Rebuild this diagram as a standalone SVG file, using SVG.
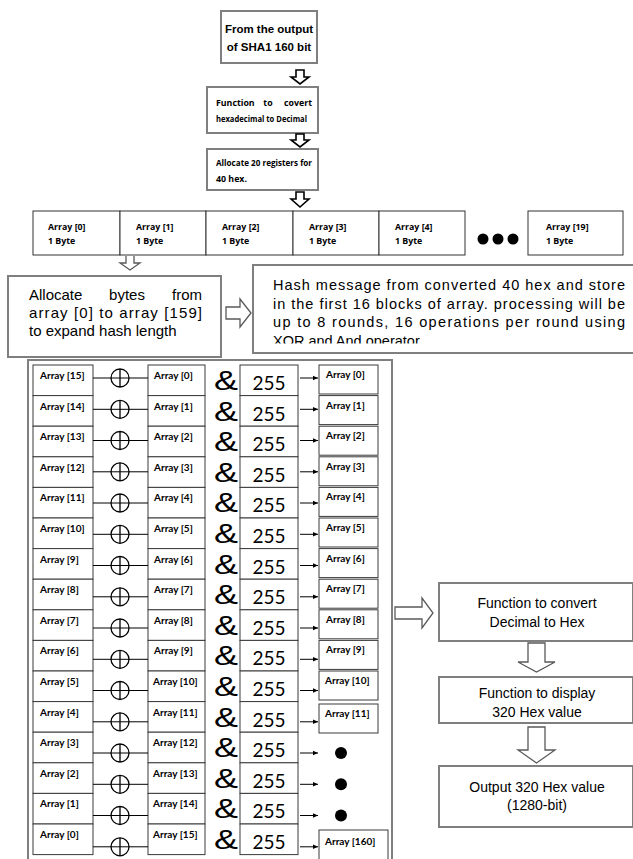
<svg xmlns="http://www.w3.org/2000/svg" width="633" height="859" viewBox="0 0 633 859">
<defs>
<style>
.gb{fill:#fff;stroke:#7f7f7f;stroke-width:2}
.tb{fill:#fff;stroke:#3a3a3a;stroke-width:1}
.ab{fill:#fff;stroke:#333;stroke-width:1}
.hb{font-family:"Liberation Sans",Arial,sans-serif;font-weight:bold;fill:#000}
.sb{font-family:"Open Sans","Liberation Sans",sans-serif;font-weight:bold;fill:#000;font-size:8.8px}
.ar{font-family:"Liberation Sans",Arial,sans-serif;fill:#000}
.lab{font-family:Lato,"Liberation Sans",sans-serif;font-weight:bold;font-size:10px;fill:#000}
.amp{font-family:"Liberation Sans",Arial,sans-serif;font-size:27px;fill:#000}
.num{font-family:Lato,"Liberation Sans",sans-serif;font-size:19px;text-anchor:middle;fill:#000}
.blk{fill:#fff;stroke:#000;stroke-width:1.6}
.hol{fill:#fff;stroke:#595959;stroke-width:1.3}
.cn{stroke:#000;stroke-width:1;fill:none}
.xo{stroke:#000;stroke-width:1.3;fill:none}
</style>
<marker id="ah" markerWidth="6" markerHeight="6" refX="5" refY="3" orient="auto" markerUnits="userSpaceOnUse"><path d="M0,0.8 L5,3 L0,5.2z" fill="#000"/></marker>
<clipPath id="hc"><rect x="254" y="266" width="378" height="77.5"/></clipPath>
</defs>
<rect width="633" height="859" fill="#fff"/>

<g id="sha1-output">
<rect class="gb" x="221" y="11" width="96" height="52"/>
<text class="hb" x="269" y="33" font-size="11.5" text-anchor="middle">From the output</text>
<text class="hb" x="269" y="51" font-size="11.5" text-anchor="middle">of SHA1 160 bit</text>
</g>

<g id="hex-to-dec">
<rect class="gb" x="207" y="87" width="111" height="46"/>
<text class="sb" x="216" y="106">Function</text>
<text class="sb" x="268" y="106" text-anchor="middle">to</text>
<text class="sb" x="312" y="106" text-anchor="end">covert</text>
<text class="sb" x="216" y="122" textLength="91" lengthAdjust="spacingAndGlyphs">hexadecimal to Decimal</text>
</g>

<g id="alloc-registers">
<rect class="gb" x="207" y="149" width="111" height="41"/>
<text class="sb" x="216" y="166" textLength="96" lengthAdjust="spacingAndGlyphs">Allocate 20 registers for</text>
<text class="sb" x="216" y="182">40 hex.</text>
</g>

<g id="array-row">
<rect class="ab" x="33" y="211" width="87" height="44"/>
<rect class="ab" x="120" y="211" width="86" height="44"/>
<rect class="ab" x="206" y="211" width="87" height="44"/>
<rect class="ab" x="293" y="211" width="86" height="44"/>
<rect class="ab" x="379" y="211" width="86" height="44"/>
<rect class="ab" x="528" y="211" width="95" height="44"/>
<g class="sb" font-size="8.5">
<text x="48" y="230">Array [0]</text><text x="48" y="244">1 Byte</text>
<text x="136" y="230">Array [1]</text><text x="136" y="244">1 Byte</text>
<text x="222" y="230">Array [2]</text><text x="222" y="244">1 Byte</text>
<text x="309" y="230">Array [3]</text><text x="309" y="244">1 Byte</text>
<text x="395" y="230">Array [4]</text><text x="395" y="244">1 Byte</text>
<text x="546" y="230">Array [19]</text><text x="546" y="244">1 Byte</text>
</g>
<circle cx="483" cy="239" r="5.5"/><circle cx="498" cy="239" r="5.5"/><circle cx="513" cy="239" r="5.5"/>
</g>

<g id="alloc-bytes">
<rect class="gb" x="8" y="276" width="213" height="81"/>
<g class="ar" font-size="15">
<text x="29" y="300">Allocate</text>
<text x="127" y="300" text-anchor="middle">bytes</text>
<text x="202" y="300" text-anchor="end">from</text>
<text x="29" y="318" textLength="173" lengthAdjust="spacing">array [0] to array [159]</text>
<text x="29" y="336">to expand hash length</text>
</g>
</g>

<g id="hash-message">
<rect class="gb" x="253" y="265" width="381" height="88"/>
<g class="ar" font-size="14.5" clip-path="url(#hc)">
<text x="273" y="290" textLength="352" lengthAdjust="spacing">Hash message from converted 40 hex and store</text>
<text x="273" y="308.5" textLength="352" lengthAdjust="spacing">in the first 16 blocks of array. processing will be</text>
<text x="273" y="327" textLength="352" lengthAdjust="spacing">up to 8 rounds, 16 operations per round using</text>
<text x="273" y="346">XOR and And operator</text>
</g>
</g>

<g id="xor-panel">
<rect class="gb" x="28" y="360" width="364" height="510"/>
</g>

<g id="row-0"><rect class="tb" x="33" y="365" width="60" height="30.6"/><text class="lab" x="40" y="379">Array [15]</text><rect class="tb" x="148" y="365" width="57" height="30.6"/><text class="lab" x="154" y="379">Array [0]</text><text class="amp" x="214" y="390" textLength="24" lengthAdjust="spacingAndGlyphs">&amp;</text><rect class="tb" x="240" y="365" width="58" height="30.6"/><text class="num" x="269" y="390">255</text><rect class="tb" x="319" y="365" width="59" height="29"/><text class="lab" x="326" y="378">Array [0]</text></g>
<g id="row-1"><rect class="tb" x="33" y="395.6" width="60" height="30.6"/><text class="lab" x="40" y="409.6">Array [14]</text><rect class="tb" x="148" y="395.6" width="57" height="30.6"/><text class="lab" x="154" y="409.6">Array [1]</text><text class="amp" x="214" y="420.6" textLength="24" lengthAdjust="spacingAndGlyphs">&amp;</text><rect class="tb" x="240" y="395.6" width="58" height="30.6"/><text class="num" x="269" y="420.6">255</text><rect class="tb" x="319" y="395.6" width="59" height="29"/><text class="lab" x="326" y="408.6">Array [1]</text></g>
<g id="row-2"><rect class="tb" x="33" y="426.2" width="60" height="30.6"/><text class="lab" x="40" y="440.2">Array [13]</text><rect class="tb" x="148" y="426.2" width="57" height="30.6"/><text class="lab" x="154" y="440.2">Array [2]</text><text class="amp" x="214" y="451.2" textLength="24" lengthAdjust="spacingAndGlyphs">&amp;</text><rect class="tb" x="240" y="426.2" width="58" height="30.6"/><text class="num" x="269" y="451.2">255</text><rect class="tb" x="319" y="426.2" width="59" height="29"/><text class="lab" x="326" y="439.2">Array [2]</text></g>
<g id="row-3"><rect class="tb" x="33" y="456.8" width="60" height="30.6"/><text class="lab" x="40" y="470.8">Array [12]</text><rect class="tb" x="148" y="456.8" width="57" height="30.6"/><text class="lab" x="154" y="470.8">Array [3]</text><text class="amp" x="214" y="481.8" textLength="24" lengthAdjust="spacingAndGlyphs">&amp;</text><rect class="tb" x="240" y="456.8" width="58" height="30.6"/><text class="num" x="269" y="481.8">255</text><rect class="tb" x="319" y="456.8" width="59" height="29"/><text class="lab" x="326" y="469.8">Array [3]</text></g>
<g id="row-4"><rect class="tb" x="33" y="487.4" width="60" height="30.6"/><text class="lab" x="40" y="501.4">Array [11]</text><rect class="tb" x="148" y="487.4" width="57" height="30.6"/><text class="lab" x="154" y="501.4">Array [4]</text><text class="amp" x="214" y="512.4" textLength="24" lengthAdjust="spacingAndGlyphs">&amp;</text><rect class="tb" x="240" y="487.4" width="58" height="30.6"/><text class="num" x="269" y="512.4">255</text><rect class="tb" x="319" y="487.4" width="59" height="29"/><text class="lab" x="326" y="500.4">Array [4]</text></g>
<g id="row-5"><rect class="tb" x="33" y="518" width="60" height="30.6"/><text class="lab" x="40" y="532">Array [10]</text><rect class="tb" x="148" y="518" width="57" height="30.6"/><text class="lab" x="154" y="532">Array [5]</text><text class="amp" x="214" y="543" textLength="24" lengthAdjust="spacingAndGlyphs">&amp;</text><rect class="tb" x="240" y="518" width="58" height="30.6"/><text class="num" x="269" y="543">255</text><rect class="tb" x="319" y="518" width="59" height="29"/><text class="lab" x="326" y="531">Array [5]</text></g>
<g id="row-6"><rect class="tb" x="33" y="548.6" width="60" height="30.6"/><text class="lab" x="40" y="562.6">Array [9]</text><rect class="tb" x="148" y="548.6" width="57" height="30.6"/><text class="lab" x="154" y="562.6">Array [6]</text><text class="amp" x="214" y="573.6" textLength="24" lengthAdjust="spacingAndGlyphs">&amp;</text><rect class="tb" x="240" y="548.6" width="58" height="30.6"/><text class="num" x="269" y="573.6">255</text><rect class="tb" x="319" y="548.6" width="59" height="29"/><text class="lab" x="326" y="561.6">Array [6]</text></g>
<g id="row-7"><rect class="tb" x="33" y="579.2" width="60" height="30.6"/><text class="lab" x="40" y="593.2">Array [8]</text><rect class="tb" x="148" y="579.2" width="57" height="30.6"/><text class="lab" x="154" y="593.2">Array [7]</text><text class="amp" x="214" y="604.2" textLength="24" lengthAdjust="spacingAndGlyphs">&amp;</text><rect class="tb" x="240" y="579.2" width="58" height="30.6"/><text class="num" x="269" y="604.2">255</text><rect class="tb" x="319" y="579.2" width="59" height="29"/><text class="lab" x="326" y="592.2">Array [7]</text></g>
<g id="row-8"><rect class="tb" x="33" y="609.8" width="60" height="30.6"/><text class="lab" x="40" y="623.8">Array [7]</text><rect class="tb" x="148" y="609.8" width="57" height="30.6"/><text class="lab" x="154" y="623.8">Array [8]</text><text class="amp" x="214" y="634.8" textLength="24" lengthAdjust="spacingAndGlyphs">&amp;</text><rect class="tb" x="240" y="609.8" width="58" height="30.6"/><text class="num" x="269" y="634.8">255</text><rect class="tb" x="319" y="609.8" width="59" height="29"/><text class="lab" x="326" y="622.8">Array [8]</text></g>
<g id="row-9"><rect class="tb" x="33" y="640.4" width="60" height="30.6"/><text class="lab" x="40" y="654.4">Array [6]</text><rect class="tb" x="148" y="640.4" width="57" height="30.6"/><text class="lab" x="154" y="654.4">Array [9]</text><text class="amp" x="214" y="665.4" textLength="24" lengthAdjust="spacingAndGlyphs">&amp;</text><rect class="tb" x="240" y="640.4" width="58" height="30.6"/><text class="num" x="269" y="665.4">255</text><rect class="tb" x="319" y="640.4" width="59" height="29"/><text class="lab" x="326" y="653.4">Array [9]</text></g>
<g id="row-10"><rect class="tb" x="33" y="671" width="60" height="30.6"/><text class="lab" x="40" y="685">Array [5]</text><rect class="tb" x="148" y="671" width="57" height="30.6"/><text class="lab" x="153" y="685" font-size="9.5">Array [10]</text><text class="amp" x="214" y="696" textLength="24" lengthAdjust="spacingAndGlyphs">&amp;</text><rect class="tb" x="240" y="671" width="58" height="30.6"/><text class="num" x="269" y="696">255</text><rect class="tb" x="319" y="671" width="59" height="29"/><text class="lab" x="325" y="684" font-size="9.5">Array [10]</text></g>
<g id="row-11"><rect class="tb" x="33" y="701.6" width="60" height="30.6"/><text class="lab" x="40" y="715.6">Array [4]</text><rect class="tb" x="148" y="701.6" width="57" height="30.6"/><text class="lab" x="153" y="715.6" font-size="9.5">Array [11]</text><text class="amp" x="214" y="726.6" textLength="24" lengthAdjust="spacingAndGlyphs">&amp;</text><rect class="tb" x="240" y="701.6" width="58" height="30.6"/><text class="num" x="269" y="726.6">255</text><rect class="tb" x="319" y="704" width="59" height="29"/><text class="lab" x="325" y="717" font-size="9.5">Array [11]</text></g>
<g id="row-12"><rect class="tb" x="33" y="732.2" width="60" height="30.6"/><text class="lab" x="40" y="746.2">Array [3]</text><rect class="tb" x="148" y="732.2" width="57" height="30.6"/><text class="lab" x="153" y="746.2" font-size="9.5">Array [12]</text><text class="amp" x="214" y="757.2" textLength="24" lengthAdjust="spacingAndGlyphs">&amp;</text><rect class="tb" x="240" y="732.2" width="58" height="30.6"/><text class="num" x="269" y="757.2">255</text><circle cx="341" cy="753" r="6"/></g>
<g id="row-13"><rect class="tb" x="33" y="762.8" width="60" height="30.6"/><text class="lab" x="40" y="776.8">Array [2]</text><rect class="tb" x="148" y="762.8" width="57" height="30.6"/><text class="lab" x="153" y="776.8" font-size="9.5">Array [13]</text><text class="amp" x="214" y="787.8" textLength="24" lengthAdjust="spacingAndGlyphs">&amp;</text><rect class="tb" x="240" y="762.8" width="58" height="30.6"/><text class="num" x="269" y="787.8">255</text><circle cx="341" cy="784.3" r="6"/></g>
<g id="row-14"><rect class="tb" x="33" y="793.4" width="60" height="30.6"/><text class="lab" x="40" y="807.4">Array [1]</text><rect class="tb" x="148" y="793.4" width="57" height="30.6"/><text class="lab" x="153" y="807.4" font-size="9.5">Array [14]</text><text class="amp" x="214" y="818.4" textLength="24" lengthAdjust="spacingAndGlyphs">&amp;</text><rect class="tb" x="240" y="793.4" width="58" height="30.6"/><text class="num" x="269" y="818.4">255</text><circle cx="341" cy="815.5" r="6"/></g>
<g id="row-15"><rect class="tb" x="33" y="824" width="60" height="30.6"/><text class="lab" x="40" y="838">Array [0]</text><rect class="tb" x="148" y="824" width="57" height="30.6"/><text class="lab" x="153" y="838" font-size="9.5">Array [15]</text><text class="amp" x="214" y="849" textLength="24" lengthAdjust="spacingAndGlyphs">&amp;</text><rect class="tb" x="240" y="824" width="58" height="30.6"/><text class="num" x="269" y="849">255</text><rect class="tb" x="319" y="830" width="69" height="40"/><text class="lab" x="325" y="845" font-size="9.5">Array [160]</text></g>

<g id="dec-to-hex">
<rect class="gb" x="439" y="583" width="194" height="58"/>
<text class="ar" x="537" y="608" font-size="14" text-anchor="middle">Function to convert</text>
<text class="ar" x="537" y="627" font-size="14" text-anchor="middle">Decimal to Hex</text>
</g>
<g id="display-hex">
<rect class="gb" x="439" y="677" width="194" height="46"/>
<text class="ar" x="537" y="698" font-size="14" text-anchor="middle">Function to display</text>
<text class="ar" x="537" y="717" font-size="14" text-anchor="middle">320 Hex value</text>
</g>
<g id="output-hex">
<rect class="gb" x="439" y="766" width="194" height="61"/>
<text class="ar" x="537" y="792" font-size="14" text-anchor="middle">Output 320 Hex value</text>
<text class="ar" x="537" y="810" font-size="14" text-anchor="middle">(1280-bit)</text>
</g>

<g id="connectors">
<path class="blk" d="M296,70 V77 H291 L300,84 L309,77 H304 V70 Z"/>
<path class="blk" d="M296,134 V140 H291 L300,147 L309,140 H304 V134 Z"/>
<path class="blk" d="M296,192 V199 H291 L300,207 L309,199 H304 V192 Z"/>
<path class="hol" d="M126,256 V263 H120 L130,270 L140,263 H134 V256"/>
<path class="hol" d="M226,307 H240 V299 L251,313 L240,327 V319 H226 Z"/>
<path class="hol" d="M395,607 H422 V598 L433,613 L422,628 V619 H395 Z"/>
<path class="hol" d="M528,643 H545 V662 H555 L536.5,672 L518,662 H528 Z"/>
<path class="hol" d="M528,727 H545 V750 H555 L536.5,763 L518,750 H528 Z"/>
<g class="cn">
<line x1="93" y1="378" x2="148" y2="378"/><line x1="93" y1="409.3" x2="148" y2="409.3"/><line x1="93" y1="440.5" x2="148" y2="440.5"/><line x1="93" y1="471.8" x2="148" y2="471.8"/>
<line x1="93" y1="503" x2="148" y2="503"/><line x1="93" y1="534.3" x2="148" y2="534.3"/><line x1="93" y1="565.5" x2="148" y2="565.5"/><line x1="93" y1="596.8" x2="148" y2="596.8"/>
<line x1="93" y1="628" x2="148" y2="628"/><line x1="93" y1="659.3" x2="148" y2="659.3"/><line x1="93" y1="690.5" x2="148" y2="690.5"/><line x1="93" y1="721.8" x2="148" y2="721.8"/>
<line x1="93" y1="753" x2="148" y2="753"/><line x1="93" y1="784.3" x2="148" y2="784.3"/><line x1="93" y1="815.5" x2="148" y2="815.5"/><line x1="93" y1="846.8" x2="148" y2="846.8"/>
</g>
<g class="xo">
<circle cx="120" cy="378" r="9"/><line x1="120" y1="369" x2="120" y2="387"/>
<circle cx="120" cy="409.3" r="9"/><line x1="120" y1="400.3" x2="120" y2="418.3"/>
<circle cx="120" cy="440.5" r="9"/><line x1="120" y1="431.5" x2="120" y2="449.5"/>
<circle cx="120" cy="471.8" r="9"/><line x1="120" y1="462.8" x2="120" y2="480.8"/>
<circle cx="120" cy="503" r="9"/><line x1="120" y1="494" x2="120" y2="512"/>
<circle cx="120" cy="534.3" r="9"/><line x1="120" y1="525.3" x2="120" y2="543.3"/>
<circle cx="120" cy="565.5" r="9"/><line x1="120" y1="556.5" x2="120" y2="574.5"/>
<circle cx="120" cy="596.8" r="9"/><line x1="120" y1="587.8" x2="120" y2="605.8"/>
<circle cx="120" cy="628" r="9"/><line x1="120" y1="619" x2="120" y2="637"/>
<circle cx="120" cy="659.3" r="9"/><line x1="120" y1="650.3" x2="120" y2="668.3"/>
<circle cx="120" cy="690.5" r="9"/><line x1="120" y1="681.5" x2="120" y2="699.5"/>
<circle cx="120" cy="721.8" r="9"/><line x1="120" y1="712.8" x2="120" y2="730.8"/>
<circle cx="120" cy="753" r="9"/><line x1="120" y1="744" x2="120" y2="762"/>
<circle cx="120" cy="784.3" r="9"/><line x1="120" y1="775.3" x2="120" y2="793.3"/>
<circle cx="120" cy="815.5" r="9"/><line x1="120" y1="806.5" x2="120" y2="824.5"/>
<circle cx="120" cy="846.8" r="9"/><line x1="120" y1="837.8" x2="120" y2="855.8"/>
</g>
<g class="cn" marker-end="url(#ah)">
<line x1="300" y1="378" x2="318" y2="378"/><line x1="300" y1="409.3" x2="318" y2="409.3"/><line x1="300" y1="440.5" x2="318" y2="440.5"/><line x1="300" y1="471.8" x2="318" y2="471.8"/>
<line x1="300" y1="503" x2="318" y2="503"/><line x1="300" y1="534.3" x2="318" y2="534.3"/><line x1="300" y1="565.5" x2="318" y2="565.5"/><line x1="300" y1="596.8" x2="318" y2="596.8"/>
<line x1="300" y1="628" x2="318" y2="628"/><line x1="300" y1="659.3" x2="318" y2="659.3"/><line x1="300" y1="690.5" x2="318" y2="690.5"/><line x1="300" y1="721.8" x2="318" y2="721.8"/>
<line x1="300" y1="753" x2="318" y2="753"/><line x1="300" y1="784.3" x2="318" y2="784.3"/><line x1="300" y1="815.5" x2="318" y2="815.5"/><line x1="300" y1="846.8" x2="318" y2="846.8"/>
</g>
</g>
</svg>
